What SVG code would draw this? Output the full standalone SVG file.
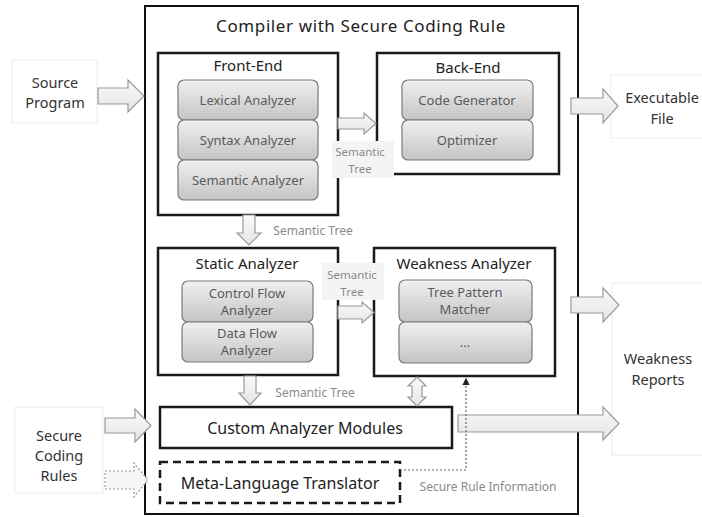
<svg xmlns="http://www.w3.org/2000/svg" width="702" height="517" viewBox="0 0 702 517">
<defs>
<linearGradient id="gIn" x1="0" y1="0" x2="0" y2="1">
<stop offset="0" stop-color="#f0f0f0"/>
<stop offset="1" stop-color="#c4c4c4"/>
</linearGradient>
<linearGradient id="gAr" x1="0" y1="0" x2="0" y2="1">
<stop offset="0" stop-color="#fafafa"/>
<stop offset="1" stop-color="#e4e4e4"/>
</linearGradient>
<marker id="mHead" viewBox="0 0 6 6" refX="5" refY="3" markerWidth="6" markerHeight="6" orient="auto">
<path d="M0,0 L6,3 L0,6 Z" fill="#222"/>
</marker>
</defs>
<style>
text{font-family:"Noto Sans","Open Sans","Liberation Sans",sans-serif;text-anchor:middle;dominant-baseline:central}
.frame{fill:#fff;stroke:#111;stroke-width:2}
.box{fill:#fff;stroke:#1a1a1a;stroke-width:2.5}
.dash{fill:#fff;stroke:#1a1a1a;stroke-width:2.5;stroke-dasharray:8 5}
.ext{fill:#fff;stroke:#ececec;stroke-width:1}
.inner{fill:url(#gIn);stroke:#7a7a7a;stroke-width:1.2}
.blk{fill:url(#gAr);stroke:#9a9a9a;stroke-width:1.2}
.dblk{fill:#f6f6f6;stroke:#9a9a9a;stroke-width:1.2;stroke-dasharray:2 2}
.lblbg{fill:#f4f4f4;stroke:none}
.title{font-size:17px;fill:#222;letter-spacing:0.6px}
.hd{font-size:15px;fill:#222}
.in{font-size:13px;fill:#5a5a5a}
.lbl{font-size:12px;fill:#8a8a8a}
.lbl2{font-size:11.5px;fill:#8a8a8a}
.extt{font-size:14.5px;fill:#333}
.cm{font-size:16px;fill:#222}
</style>

<g id="compiler">
<rect class="frame" x="145" y="6" width="433" height="508"/>
<text class="title" x="361" y="25">Compiler with Secure Coding Rule</text>
</g>

<g id="source-program">
<rect class="ext" x="12" y="60" width="85" height="63"/>
<text class="extt" x="55" y="82">Source</text>
<text class="extt" x="55" y="102">Program</text>
</g>

<g id="executable-file">
<rect class="ext" x="611" y="75" width="95" height="63"/>
<text class="extt" x="662" y="97">Executable</text>
<text class="extt" x="662" y="118">File</text>
</g>

<g id="weakness-reports">
<rect class="ext" x="612" y="283" width="95" height="172"/>
<text class="extt" x="658" y="358">Weakness</text>
<text class="extt" x="658" y="379">Reports</text>
</g>

<g id="secure-coding-rules">
<rect class="ext" x="15" y="407" width="88" height="86"/>
<text class="extt" x="59" y="435">Secure</text>
<text class="extt" x="59" y="455">Coding</text>
<text class="extt" x="59" y="475">Rules</text>
</g>

<g id="front-end">
<rect class="box" x="158" y="53" width="180" height="162"/>
<text class="hd" x="248" y="65">Front-End</text>
<rect class="inner" x="178" y="80" width="140" height="40" rx="6"/>
<text class="in" x="248" y="100">Lexical Analyzer</text>
<rect class="inner" x="178" y="120" width="140" height="40" rx="6"/>
<text class="in" x="248" y="140">Syntax Analyzer</text>
<rect class="inner" x="178" y="160" width="140" height="40" rx="6"/>
<text class="in" x="248" y="180">Semantic Analyzer</text>
</g>

<g id="back-end">
<rect class="box" x="377" y="53" width="182" height="121"/>
<text class="hd" x="468" y="67">Back-End</text>
<rect class="inner" x="402" y="80" width="131" height="40" rx="6"/>
<text class="in" x="467" y="100">Code Generator</text>
<rect class="inner" x="402" y="120" width="131" height="40" rx="6"/>
<text class="in" x="467" y="140">Optimizer</text>
</g>

<g id="static-analyzer">
<rect class="box" x="158" y="248" width="180" height="127"/>
<text class="hd" x="247" y="263">Static Analyzer</text>
<rect class="inner" x="182" y="281" width="131" height="41" rx="6"/>
<text class="in" x="247" y="293">Control Flow</text>
<text class="in" x="247" y="310">Analyzer</text>
<rect class="inner" x="182" y="322" width="131" height="40" rx="6"/>
<text class="in" x="247" y="333">Data Flow</text>
<text class="in" x="247" y="350">Analyzer</text>
</g>

<g id="weakness-analyzer">
<rect class="box" x="374" y="248" width="181" height="128"/>
<text class="hd" x="464" y="263">Weakness Analyzer</text>
<rect class="inner" x="399" y="280" width="133" height="42" rx="6"/>
<text class="in" x="465" y="292">Tree Pattern</text>
<text class="in" x="465" y="309">Matcher</text>
<rect class="inner" x="399" y="322" width="133" height="41" rx="6"/>
<text class="in" x="465" y="342">...</text>
</g>

<g id="custom-analyzer-modules">
<rect class="box" x="160" y="407" width="292" height="41"/>
<text class="cm" x="305" y="428">Custom Analyzer Modules</text>
</g>

<g id="meta-language-translator">
<rect class="dash" x="160" y="462" width="240" height="41"/>
<text class="cm" x="280" y="483">Meta-Language Translator</text>
</g>

<g id="connectors">
<!-- Source -> compiler -->
<path class="blk" d="M98,88 L128,88 L128,80 L144,96 L128,112 L128,104 L98,104 Z"/>
<!-- compiler -> Executable -->
<path class="blk" d="M571,98 L603,98 L603,89 L618,106 L603,123 L603,114 L571,114 Z"/>
<!-- Front-End -> Back-End -->
<path class="blk" d="M338,118 L364,118 L364,113 L376,123.5 L364,134 L364,129 L338,129 Z"/>
<!-- Front-End -> Static -->
<path class="blk" d="M243,215 L243,233 L237,233 L249,245 L261,233 L255,233 L255,215 Z"/>
<!-- Static -> Weakness -->
<path class="blk" d="M338,306 L362,306 L362,302 L374,312.5 L362,323 L362,319 L338,319 Z"/>
<!-- Static -> Custom -->
<path class="blk" d="M244,376 L244,393 L239,393 L250,405 L261,393 L256,393 L256,376 Z"/>
<!-- Weakness <-> Custom -->
<path class="blk" d="M417,377 L426,386 L422,386 L422,397 L426,397 L417,406 L408,397 L412,397 L412,386 L408,386 Z"/>
<!-- compiler -> Weakness Reports (top) -->
<path class="blk" d="M571,297 L603,297 L603,288 L619,305 L603,322 L603,313 L571,313 Z"/>
<!-- Custom -> Weakness Reports -->
<path class="blk" d="M458,415 L603,415 L603,407 L619,423.5 L603,440 L603,432 L458,432 Z"/>
<!-- Secure Coding Rules -> Custom -->
<path class="blk" d="M105,418 L135,418 L135,409 L151,425.5 L135,442 L135,433 L105,433 Z"/>
<!-- Secure Coding Rules -> Meta (dotted) -->
<path class="dblk" d="M105,471 L134,471 L134,463 L148,480 L134,497 L134,489 L105,489 Z"/>
<!-- Meta -> Weakness (secure rule info) -->
<path d="M400,470 L466,470 L466,379" fill="none" stroke="#666" stroke-width="1.2" stroke-dasharray="2 2" marker-end="url(#mHead)"/>

<!-- labels -->
<text class="lbl" x="313" y="230">Semantic Tree</text>
<rect class="lblbg" x="332" y="141" width="62" height="37"/>
<text class="lbl2" x="360" y="151">Semantic</text>
<text class="lbl2" x="360" y="168">Tree</text>
<rect class="lblbg" x="322" y="263" width="62" height="37"/>
<text class="lbl2" x="352" y="274">Semantic</text>
<text class="lbl2" x="352" y="291">Tree</text>
<text class="lbl" x="315" y="392">Semantic Tree</text>
<text class="lbl" x="488" y="486">Secure Rule Information</text>
</g>
</svg>
